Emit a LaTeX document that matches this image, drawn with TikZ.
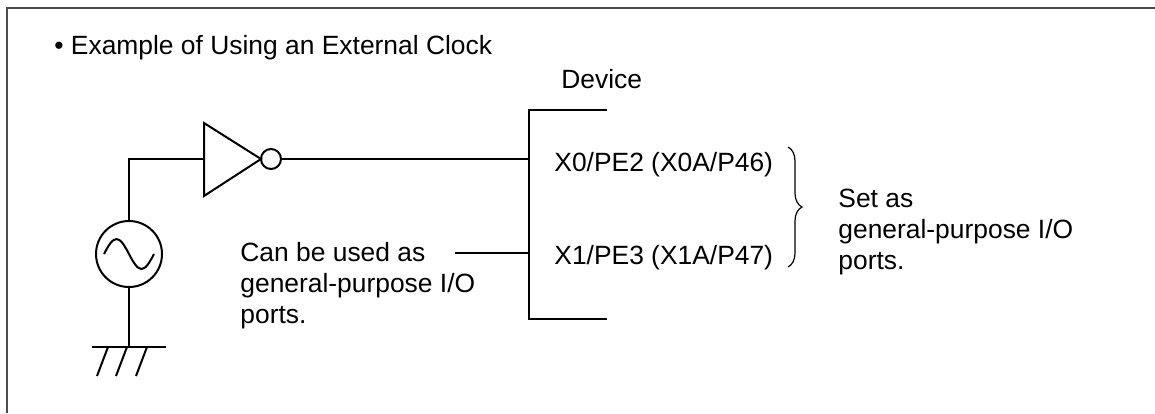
\documentclass[tikz,border=0pt]{standalone}
\usepackage{fontspec}
\setmainfont{Liberation Sans}
\usetikzlibrary{decorations.pathreplacing}

\begin{document}
\begin{tikzpicture}[x=0.5pt,y=-0.5pt,
  wr/.style={line width=1pt},
  txt/.style={inner sep=0pt,font=\fontsize{13.2}{15.5}\selectfont},
  brc/.style={line width=0.6pt,decorate,decoration={brace,amplitude=7pt}}]
\useasboundingbox (0,0) rectangle (1155,413);
\draw[black!70,line width=1pt] (7,413) |- (1155,8);

\node[txt,anchor=base west] (title) at (54,54) {• Example of Using an External Clock};
\node[txt,anchor=base west] (dev) at (561,88) {Device};
\node[txt,anchor=base west] (x0) at (554,171) {X0/PE2 (X0A/P46)};
\node[txt,anchor=base west] (x1) at (554,264) {X1/PE3 (X1A/P47)};
\node[txt,anchor=west,align=left] (canuse) at (240,286) {Can be used as\\general-purpose I/O\\ports.};
\node[txt,anchor=west,align=left] (setas) at (838,232) {Set as\\general-purpose I/O\\ports.};

% oscillator and ground
\node[wr,draw,circle,minimum size=33pt,inner sep=0pt] (osc) at (129,254) {};
\draw[wr] (104,254) sin (116.5,239) cos (129,254) sin (141.5,269) cos (154,254);
\coordinate (gnd) at (129,347);
\draw[wr] (osc.south) -- (gnd);
\draw[wr] (92,347) -- (166,347);
\foreach \x in {108,127,147}
  \draw[wr] (\x,347) -- ++(-11,29);

% inverter
\coordinate (inv) at (204,159);
\draw[wr] (204,123) -- (261,159) -- (204,196) -- cycle;
\node[wr,draw,circle,minimum size=10pt,inner sep=0pt] (bub) at (271,159) {};
\draw[wr] (osc.north) |- (inv);

% device
\coordinate (pin0) at (529,159);
\coordinate (pin1) at (529,253);
\coordinate (free) at (455,253);
\draw[wr] (607,110) -| (529,319) -- (607,319);
\draw[wr] (bub.east) -- (pin0);
\draw[wr] (free) -- (pin1);
\draw[brc] (788,147) -- (788,267);
\end{tikzpicture}
\end{document}
